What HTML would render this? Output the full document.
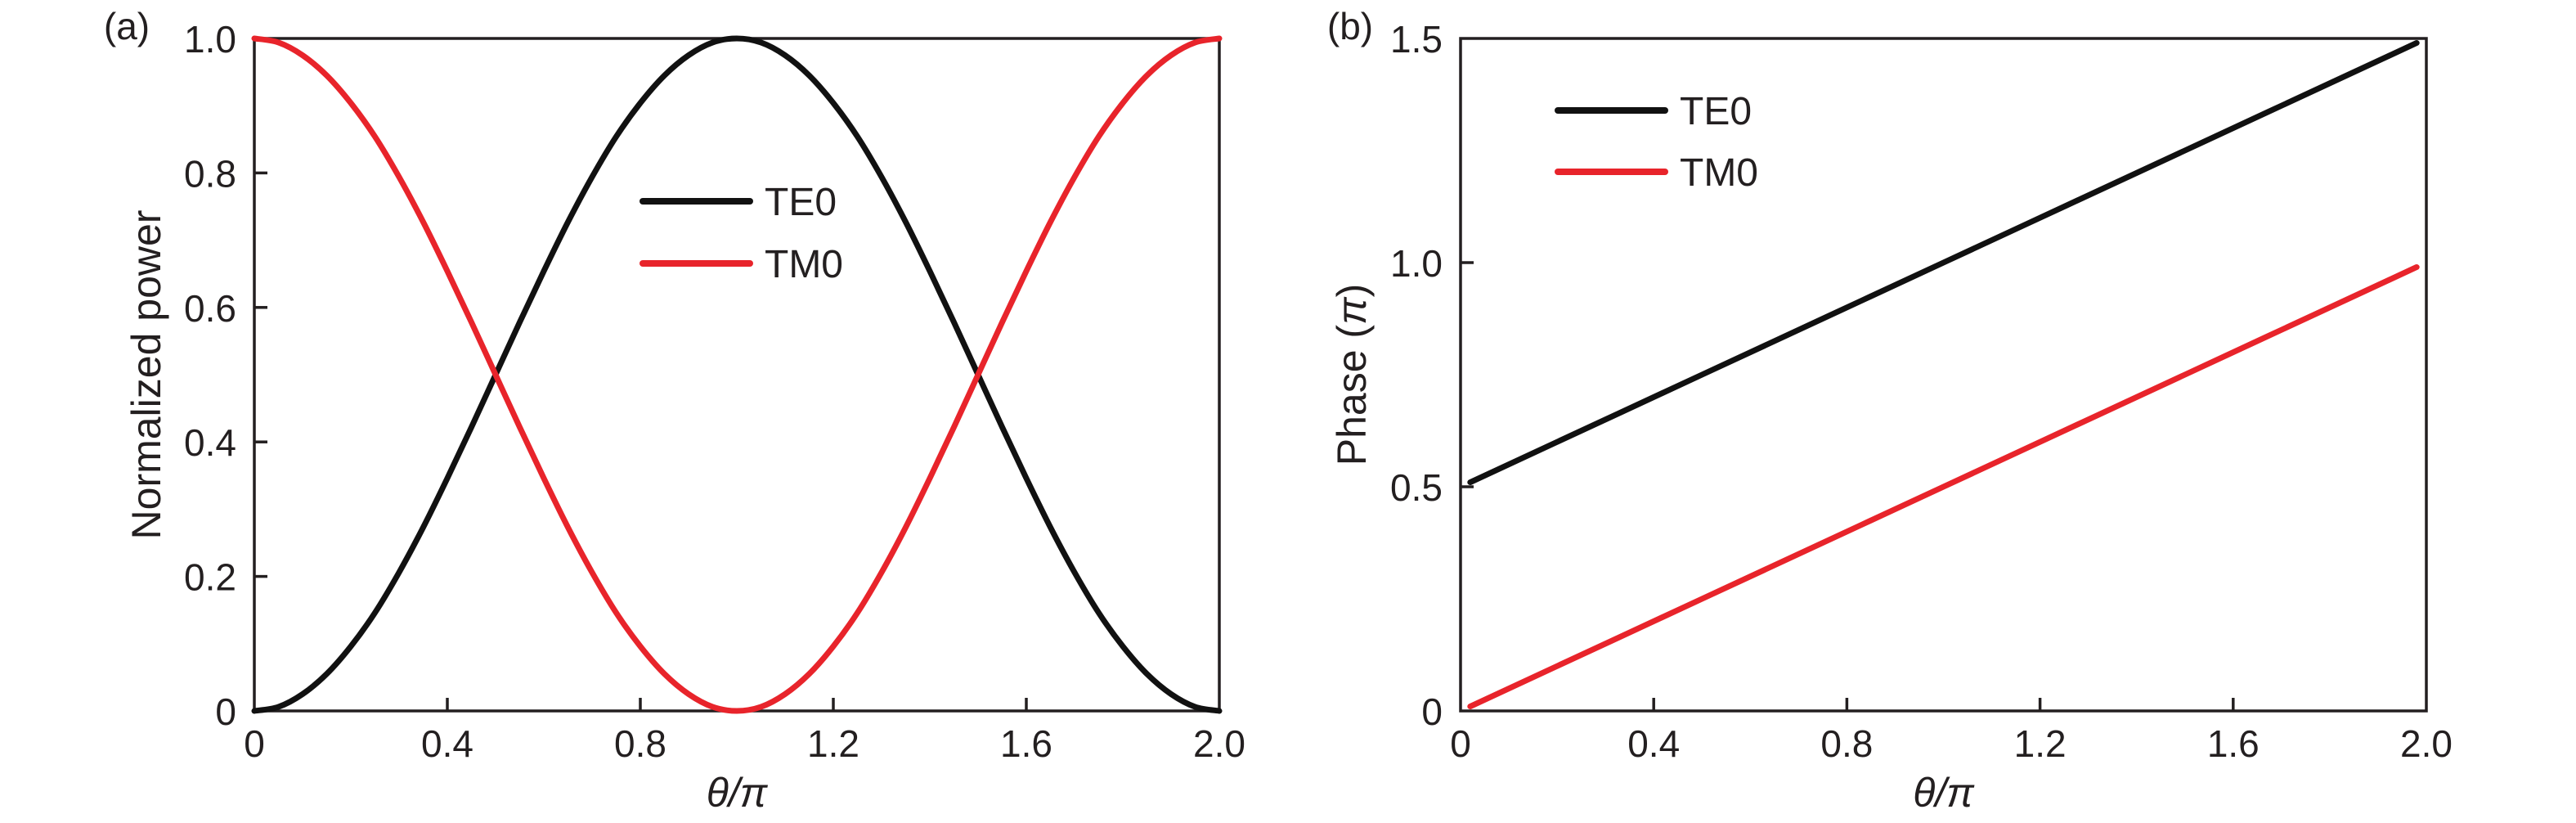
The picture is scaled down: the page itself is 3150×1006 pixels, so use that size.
<!DOCTYPE html>
<html><head><meta charset="utf-8"><style>
html,body{margin:0;padding:0;background:#fff;}
svg{display:block;font-family:"Liberation Sans",sans-serif;fill:#231f20;}
</style></head><body>
<svg id="chart" width="3150" height="1006" viewBox="0 0 3150 1006" xmlns="http://www.w3.org/2000/svg"></svg>
<script>
// Panel (a) data
const thetaA = [0,0.05,0.1,0.15,0.2,0.25,0.3,0.35,0.4,0.45,0.5,0.55,0.6,0.65,0.7,0.75,0.8,0.85,0.9,0.95,1.0,1.05,1.1,1.15,1.2,1.25,1.3,1.35,1.4,1.45,1.5,1.55,1.6,1.65,1.7,1.75,1.8,1.85,1.9,1.95,2.0];
const te0Power = [0,0.006,0.025,0.055,0.096,0.146,0.206,0.273,0.346,0.422,0.5,0.578,0.654,0.727,0.794,0.854,0.904,0.945,0.975,0.994,1,0.994,0.975,0.945,0.904,0.854,0.794,0.727,0.654,0.578,0.5,0.422,0.346,0.273,0.206,0.146,0.096,0.055,0.025,0.006,0];
const tm0Power = [1,0.994,0.975,0.945,0.904,0.854,0.794,0.727,0.654,0.578,0.5,0.422,0.346,0.273,0.206,0.146,0.096,0.055,0.025,0.006,0,0.006,0.025,0.055,0.096,0.146,0.206,0.273,0.346,0.422,0.5,0.578,0.654,0.727,0.794,0.854,0.904,0.945,0.975,0.994,1];
const xTicksA = [0,0.4,0.8,1.2,1.6,2.0];
const xTickLabelsA = ["0","0.4","0.8","1.2","1.6","2.0"];
const yTicksA = [0,0.2,0.4,0.6,0.8,1.0];
const yTickLabelsA = ["0","0.2","0.4","0.6","0.8","1.0"];
// Panel (b) data
const thetaB = [0.02,0.5,1.0,1.5,1.98];
const te0Phase = [0.51,0.75,1.0,1.25,1.49];
const tm0Phase = [0.01,0.25,0.5,0.75,0.99];
const xTicksB = [0,0.4,0.8,1.2,1.6,2.0];
const xTickLabelsB = ["0","0.4","0.8","1.2","1.6","2.0"];
const yTicksB = [0,0.5,1.0,1.5];
const yTickLabelsB = ["0","0.5","1.0","1.5"];

const NS="http://www.w3.org/2000/svg";
const svg=document.getElementById('chart');
function mk(tag,attrs,parent){const e=document.createElementNS(NS,tag);for(const k in attrs)e.setAttribute(k,attrs[k]);(parent||svg).appendChild(e);return e;}
function smoothPath(pts){
  let d='M'+pts[0][0]+','+pts[0][1];
  for(let i=0;i<pts.length-1;i++){
    const p0=pts[Math.max(0,i-1)],p1=pts[i],p2=pts[i+1],p3=pts[Math.min(pts.length-1,i+2)];
    const c1=[p1[0]+(p2[0]-p0[0])/6,p1[1]+(p2[1]-p0[1])/6];
    const c2=[p2[0]-(p3[0]-p1[0])/6,p2[1]-(p3[1]-p1[1])/6];
    d+=' C'+c1[0]+','+c1[1]+' '+c2[0]+','+c2[1]+' '+p2[0]+','+p2[1];
  }
  return d;
}
function panel(cfg){
  const g=mk('g',{});
  
  
  const sx=v=>cfg.x0+(v-cfg.xmin)/(cfg.xmax-cfg.xmin)*(cfg.x1-cfg.x0);
  const sy=v=>cfg.y1-(v-cfg.ymin)/(cfg.ymax-cfg.ymin)*(cfg.y1-cfg.y0);
  const frame=mk('rect',{x:cfg.x0,y:cfg.y0,width:cfg.x1-cfg.x0,height:cfg.y1-cfg.y0,fill:'none',stroke:'#231f20','stroke-width':3.5},g);
  
  
  cfg.xt.forEach((v,i)=>{
    const x=sx(v);
    if(i>0&&i<cfg.xt.length-1){const t=mk('line',{x1:x,x2:x,y1:cfg.y1,y2:cfg.y1-16,stroke:'#231f20','stroke-width':3.5},g);
      }
    const l=mk('text',{x:x,y:925,'font-size':46,'text-anchor':'middle'},g);l.textContent=cfg.xl[i];
    
  });
  cfg.yt.forEach((v,i)=>{
    const y=sy(v);
    if(i>0&&i<cfg.yt.length-1){const t=mk('line',{x1:cfg.x0,x2:cfg.x0+16,y1:y,y2:y,stroke:'#231f20','stroke-width':3.5},g);
      }
    const l=mk('text',{x:cfg.x0-22,y:y+17,'font-size':46,'text-anchor':'end'},g);l.textContent=cfg.yl[i];
    
  });
  const xt=mk('text',{x:(cfg.x0+cfg.x1)/2,y:986,'font-size':50,'text-anchor':'middle','font-style':'italic'},g);
  xt.textContent='θ/π';
  
  const yt=mk('text',{x:0,y:0,'font-size':50,'text-anchor':'middle',transform:'translate('+cfg.ylx+','+((cfg.y0+cfg.y1)/2)+') rotate(-90)'},g);
  yt.innerHTML=cfg.ytitle;
  
  const pl=mk('text',{x:cfg.plx,y:48,'font-size':46,'text-anchor':'middle'},g);pl.textContent=cfg.plabel;
  
  cfg.series.forEach(s=>{
    const pts=s.xs.map((v,i)=>[sx(v),sy(s.ys[i])]);
    const p=mk('path',{d:smoothPath(pts),fill:'none',stroke:s.color,'stroke-width':7,'stroke-linecap':'round','stroke-linejoin':'round'},g);
    
  });
  cfg.series.forEach((s,i)=>{
    const y=cfg.legY[i];
    const lg=mk('g',{},g);
    
    
    mk('line',{x1:cfg.legX0,x2:cfg.legX1,y1:y,y2:y,stroke:s.color,'stroke-width':8,'stroke-linecap':'round'},lg);
    const t=mk('text',{x:cfg.legX1+18,y:y+17,'font-size':48},lg);t.textContent=s.label;
  });
}
panel({name:'panel-a-power',x0:311,x1:1491,y0:47,y1:869,xmin:0,xmax:2,ymin:0,ymax:1,
  xt:xTicksA,xl:xTickLabelsA,yt:yTicksA,yl:yTickLabelsA,ylx:196,ytitle:'Normalized power',plx:155,plabel:'(a)',
  series:[{name:'te0-power-line',label:'TE0',color:'#111111',xs:thetaA,ys:te0Power},
          {name:'tm0-power-line',label:'TM0',color:'#e8242b',xs:thetaA,ys:tm0Power}],
  legX0:786,legX1:917,legY:[246,322]});
panel({name:'panel-b-phase',x0:1786,x1:2967,y0:47,y1:869,xmin:0,xmax:2,ymin:0,ymax:1.5,
  xt:xTicksB,xl:xTickLabelsB,yt:yTicksB,yl:yTickLabelsB,ylx:1670,ytitle:'Phase (<tspan font-style="italic">π</tspan>)',plx:1651,plabel:'(b)',
  series:[{name:'te0-phase-line',label:'TE0',color:'#111111',xs:thetaB,ys:te0Phase},
          {name:'tm0-phase-line',label:'TM0',color:'#e8242b',xs:thetaB,ys:tm0Phase}],
  legX0:1905,legX1:2036,legY:[135,210]});
</script>
</body></html>
